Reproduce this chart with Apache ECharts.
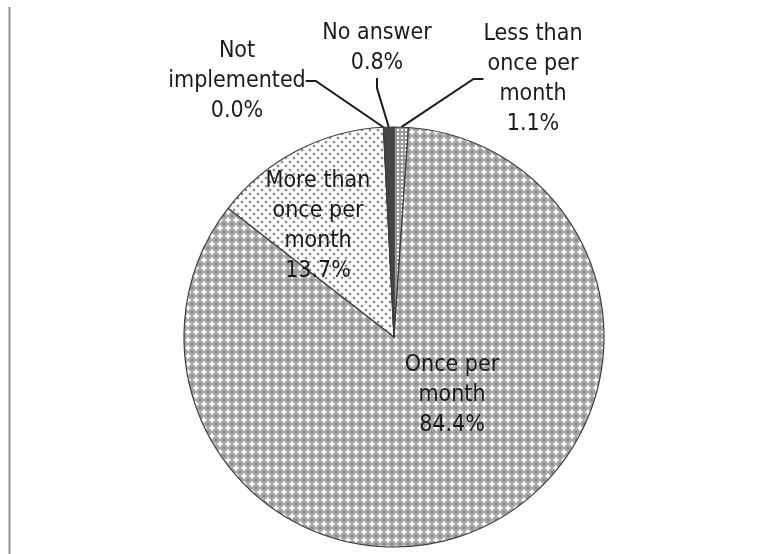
<!DOCTYPE html>
<html>
<head>
<meta charset="utf-8">
<script src="https://cdn.jsdelivr.net/npm/echarts@6/dist/echarts.min.js"></script>
<style>
html,body{margin:0;padding:0;background:#fff;}
#chart{width:772px;height:554px;}
</style>
</head>
<body>
<div id="chart"></div>
<script>
// ---- data ----
var categories = ['Less than once per month', 'Once per month', 'More than once per month', 'Not implemented', 'No answer'];
var labelTexts = ['Less than\nonce per\nmonth', 'Once per\nmonth', 'More than\nonce per\nmonth', 'Not\nimplemented', 'No answer'];
var values = [1.1, 84.4, 13.7, 0.0, 0.8];

// ---- patterns ----
function makeTile(size, draw) {
  var c = document.createElement('canvas');
  c.width = size; c.height = size;
  var g = c.getContext('2d');
  draw(g);
  return { image: c, repeat: 'repeat' };
}
var patOnce = makeTile(8, function (g) {
  g.fillStyle = '#a8a8a8'; g.fillRect(0, 0, 8, 8);
  g.fillStyle = '#dcdcdc'; g.fillRect(1, 3, 6, 2); g.fillRect(3, 1, 2, 6);
  g.fillStyle = '#ffffff'; g.fillRect(2, 3, 4, 2); g.fillRect(3, 2, 2, 4);
  g.fillStyle = '#808080'; g.fillRect(7, 7, 1, 1); g.fillRect(0, 0, 1, 1); g.fillRect(7, 0, 1, 1); g.fillRect(0, 7, 1, 1);
});
var patMore = makeTile(8, function (g) {
  g.fillStyle = '#ffffff'; g.fillRect(0, 0, 8, 8);
  g.fillStyle = '#e4e4e4'; g.fillRect(0, 1, 4, 2); g.fillRect(1, 0, 2, 4); g.fillRect(4, 5, 4, 2); g.fillRect(5, 4, 2, 4);
  g.fillStyle = '#8e8e8e'; g.fillRect(1, 1, 2, 2); g.fillRect(5, 5, 2, 2);
});
var patLess = makeTile(4, function (g) {
  g.fillStyle = '#9a9a9a'; g.fillRect(0, 0, 4, 4);
  g.fillStyle = '#ffffff'; g.fillRect(1, 1, 2, 2);
});
var fills = [patLess, patOnce, patMore, '#4a4a4a', '#454545'];
var labelPos = ['outside', 'inside', 'inside', 'outside', 'outside'];

// label placement (layout only)
var labelXY = [[533, 79], [452, 395], [318, 226], [237, 81], [377, 48]];

var FONT = '"Liberation Sans Narrow", "Arial Narrow", "DejaVu Sans Condensed", "Liberation Sans", sans-serif';

var seriesData = categories.map(function (name, i) {
  return {
    name: name,
    value: values[i],
    itemStyle: { color: fills[i] },
    label: {
      position: labelPos[i],
      formatter: labelTexts[i] + '\n' + values[i].toFixed(1) + '%'
    },
    labelLine: { show: labelPos[i] === 'outside' }
  };
});

var chart = echarts.init(document.getElementById('chart'), null, { renderer: 'canvas' });
chart.setOption({
  backgroundColor: '#ffffff',
  animation: false,
  graphic: [{
    type: 'line',
    shape: { x1: 9.5, y1: 7, x2: 9.5, y2: 554 },
    style: { stroke: '#8e8e8e', lineWidth: 2 }
  }],
  series: [{
    type: 'pie',
    center: [394, 337],
    radius: [0, 210],
    startAngle: 90,
    clockwise: true,
    avoidLabelOverlap: false,
    silent: true,
    data: seriesData,
    itemStyle: { borderColor: '#3c3c3c', borderWidth: 1.2 },
    label: {
      show: true,
      color: '#1a1a1a',
      fontFamily: FONT,
      fontSize: 23,
      lineHeight: 30,
      align: 'center'
    },
    labelLine: {
      lineStyle: { color: '#1a1a1a', width: 2 },
      length: 20,
      length2: 10
    },
    labelLayout: function (p) {
      var xy = labelXY[p.dataIndex];
      return { x: xy[0], y: xy[1], align: 'center', verticalAlign: 'middle' };
    }
  }]
});
</script>
</body>
</html>
